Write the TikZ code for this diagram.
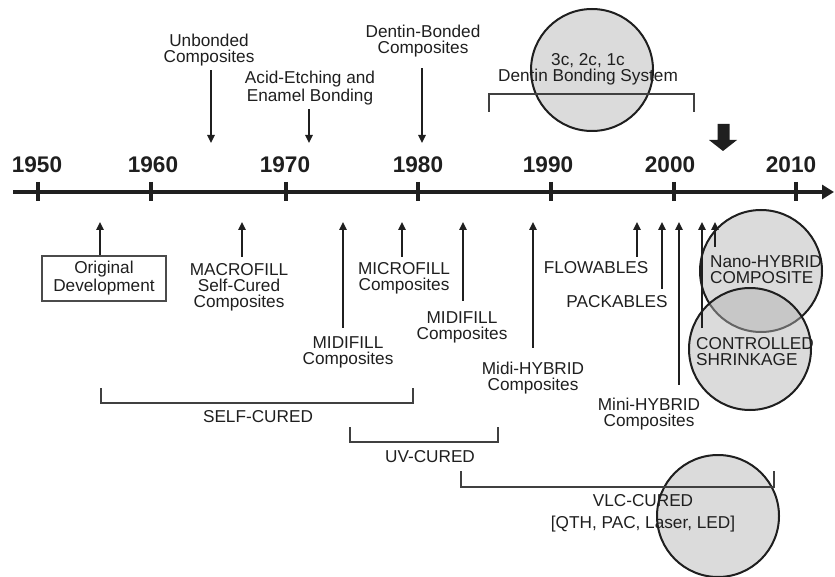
\documentclass[tikz,border=0pt]{standalone}
\usepackage{fontspec}
\setmainfont{Liberation Sans}
\usetikzlibrary{arrows.meta}

\definecolor{bubble}{gray}{0.86}
\definecolor{ink}{gray}{0.12}

\begin{document}
\begin{tikzpicture}[x=0.5pt, y=-0.5pt,
    txt/.style={font=\fontsize{8.6}{8}\selectfont, align=center, inner sep=0pt, text=ink},
    year/.style={font=\fontsize{11.3}{12}\selectfont\bfseries, inner sep=0pt, text=ink},
    axisline/.style={draw=ink, line width=2pt, -{Triangle[width=7pt,length=6pt]}},
    tickmark/.style={draw=ink, line width=2pt},
    pointer/.style={draw=ink, line width=1pt, -{Triangle[width=3.6pt,length=4pt]}},
    bracket/.style={draw=ink!85, line width=1pt},
    bubblenode/.style={circle, draw=ink, line width=1pt, fill=bubble, minimum size=61pt, inner sep=0pt},
    startbox/.style={txt, draw=ink!80, line width=0.6pt, minimum width=62pt, minimum height=22.5pt}
]
    \useasboundingbox (0,0) rectangle (835,577);

    % Bulles de fond
    \node[bubblenode] (dbsring) at (592,70) {};
    \node[bubblenode] (vlcring) at (718,516) {};
    \node[bubblenode] (nanoring) at (761,271) {};
    \node[bubblenode, fill=black!30, fill opacity=0.47, text opacity=1] (ctrlring) at (750,349) {};

    % Axe du temps
    \coordinate (axstart) at (13,192);
    \coordinate (axend) at (834,192);
    \draw[axisline] (axstart) -- (axend);
    \foreach \yr/\xx/\lx in {1950/38/37, 1960/151/153, 1970/286/285, 1980/418/418, 1990/551/548, 2000/674/670, 2010/796/791} {
        \draw[tickmark] (\xx,182) -- (\xx,201);
        \node[year] (y\yr) at (\lx,165) {\yr};
    }

    % Fleche "aujourd'hui"
    \fill[ink] (717.5,124) -- (729.5,124) -- (729.5,140) -- (737,140) -- (723,151)
        -- (709,140) -- (717.5,140) -- cycle;

    % Evenements au-dessus de l'axe
    \node[txt] (unb) at (209,50) {Unbonded\\Composites};
    \node[txt] (acid) at (310,88) {Acid-Etching and\\Enamel Bonding};
    \node[txt] (dent) at (423,41) {Dentin-Bonded\\Composites};
    \node[txt] (dbs) at (588,69) {3c, 2c, 1c\\Dentin Bonding System};
    \draw[bracket] (489,112) |- (694,94) -- (694,112);

    \coordinate (p-unb) at (211,143);
    \coordinate (p-acid) at (309,143);
    \coordinate (p-dent) at (422,143);
    \draw[pointer, shorten <=2pt] (unb.south -| p-unb) -- (p-unb);
    \draw[pointer, shorten <=2pt] (acid.south -| p-acid) -- (p-acid);
    \draw[pointer, shorten <=5.5pt] (dent.south -| p-dent) -- (p-dent);

    % Materiaux sous l'axe
    \node[startbox] (orig) at (104,278.5) {Original\\Development};
    \node[txt] (macro) at (239,287) {MACROFILL\\Self-Cured\\Composites};
    \node[txt] (midia) at (348,352) {MIDIFILL\\Composites};
    \node[txt] (micro) at (404,278) {MICROFILL\\Composites};
    \node[txt] (midib) at (462,327) {MIDIFILL\\Composites};
    \node[txt] (midh) at (533,378) {Midi-HYBRID\\Composites};
    \node[txt] (flow) at (596,268) {FLOWABLES};
    \node[txt] (pack) at (617,302) {PACKABLES};
    \node[txt] (minh) at (649,414) {Mini-HYBRID\\Composites};
    \node[txt, align=left] (nano) at (766,270) {Nano-HYBRID\\COMPOSITE};
    \node[txt, align=left] (ctrl) at (755,352) {CONTROLLED\\SHRINKAGE};

    \foreach \nm/\xx in {orig/100, macro/242, midia/343, micro/402, midib/463, midh/533,
                          flow/637, pack/662, minh/679, nanoa/702, nanob/715}
        \coordinate (p-\nm) at (\xx,222);

    \draw[pointer] (orig.north -| p-orig) -- (p-orig);
    \draw[pointer, shorten <=3pt] (macro.north -| p-macro) -- (p-macro);
    \draw[pointer, shorten <=4pt] (midia.north -| p-midia) -- (p-midia);
    \draw[pointer, shorten <=2.5pt] (micro.north -| p-micro) -- (p-micro);
    \draw[pointer, shorten <=5pt] (midib.north -| p-midib) -- (p-midib);
    \draw[pointer, shorten <=7pt] (midh.north -| p-midh) -- (p-midh);
    \draw[pointer, shorten <=2.5pt] (flow.north -| p-flow) -- (p-flow);
    \draw[pointer, shorten <=3.5pt] (pack.north -| p-pack) -- (p-pack);
    \draw[pointer, shorten <=6.5pt] (minh.north -| p-minh) -- (p-minh);
    \draw[pointer, shorten <=10.5pt] (ctrlring.center -| p-nanoa) -- (p-nanoa);
    \draw[pointer, shorten <=12pt] (nanoring.center -| p-nanob) -- (p-nanob);

    % Modes de polymerisation
    \draw[bracket] (101,388) |- (413,403) -- (413,388);
    \node[txt] (self) at (258,417) {SELF-CURED};
    \draw[bracket] (350,427) |- (498,442) -- (498,427);
    \node[txt] (uv) at (430,457) {UV-CURED};
    \draw[bracket] (461,471) |- (774,487) -- (774,471);
    \node[txt] (vlc) at (643,513) {VLC-CURED\\[3pt][QTH, PAC, Laser, LED]};

\end{tikzpicture}
\end{document}
